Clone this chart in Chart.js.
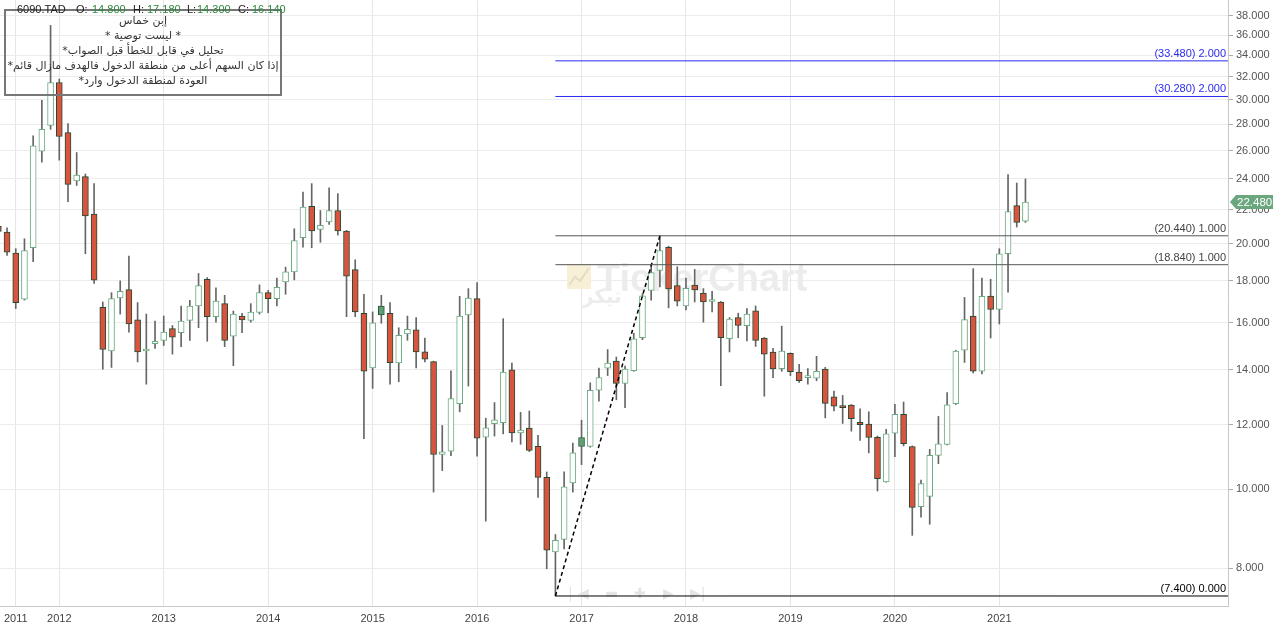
<!DOCTYPE html>
<html lang="ar">
<head>
<meta charset="UTF-8">
<title>6090.TAD</title>
<script src="https://cdn.jsdelivr.net/npm/chart.js"></script>
<style>
  html, body { margin: 0; padding: 0; background: #fff; }
  #wrap { width: 1273px; height: 628px; position: relative; }
</style>
</head>
<body>
<div id="wrap"><canvas id="chart"></canvas></div>
<script>
// monthly candles, Jun 2011 .. Apr 2021
const months = [
  '2011-06','2011-07','2011-08','2011-09','2011-10','2011-11','2011-12',
  '2012-01','2012-02','2012-03','2012-04','2012-05','2012-06','2012-07','2012-08','2012-09','2012-10','2012-11','2012-12',
  '2013-01','2013-02','2013-03','2013-04','2013-05','2013-06','2013-07','2013-08','2013-09','2013-10','2013-11','2013-12',
  '2014-01','2014-02','2014-03','2014-04','2014-05','2014-06','2014-07','2014-08','2014-09','2014-10','2014-11','2014-12',
  '2015-01','2015-02','2015-03','2015-04','2015-05','2015-06','2015-07','2015-08','2015-09','2015-10','2015-11','2015-12',
  '2016-01','2016-02','2016-03','2016-04','2016-05','2016-06','2016-07','2016-08','2016-09','2016-10','2016-11','2016-12',
  '2017-01','2017-02','2017-03','2017-04','2017-05','2017-06','2017-07','2017-08','2017-09','2017-10','2017-11','2017-12',
  '2018-01','2018-02','2018-03','2018-04','2018-05','2018-06','2018-07','2018-08','2018-09','2018-10','2018-11','2018-12',
  '2019-01','2019-02','2019-03','2019-04','2019-05','2019-06','2019-07','2019-08','2019-09','2019-10','2019-11','2019-12',
  '2020-01','2020-02','2020-03','2020-04','2020-05','2020-06','2020-07','2020-08','2020-09','2020-10','2020-11','2020-12',
  '2021-01','2021-02','2021-03','2021-04'
];
const opens = [
  21.00, 20.66, 19.47, 17.10, 19.76, 25.95, 27.90,
  31.50, 27.35, 23.87, 24.15, 21.73, 16.70, 14.77, 17.16, 17.56, 16.13, 14.77, 15.08,
  15.22, 15.73, 15.55, 16.10, 16.77, 18.08, 16.27, 16.88, 15.40, 16.30, 16.10, 16.47,
  17.41, 17.12, 17.95, 18.46, 20.33, 22.21, 20.81, 21.26, 21.95, 20.72, 18.58, 16.43,
  14.08, 16.76, 16.43, 14.28, 15.50, 15.68, 14.73, 14.33, 11.03, 11.13, 12.73, 16.35,
  17.12, 11.58, 12.03, 12.07, 14.01, 11.72, 11.88, 11.29, 10.34, 8.38, 8.68, 10.18,
  11.57, 11.28, 13.22, 14.07, 14.36, 13.48, 13.97, 15.33, 17.52, 18.54, 19.79, 17.76,
  16.77, 17.79, 17.39, 16.98, 16.96, 15.29, 16.23, 15.86, 16.54, 15.32, 14.72, 14.05,
  14.67, 13.92, 13.70, 13.68, 14.03, 12.98, 12.64, 12.68, 12.08, 12.02, 11.58, 10.21,
  11.71, 12.35, 11.28, 9.52, 9.80, 11.00, 11.35, 12.73, 14.80, 16.30, 13.95, 17.24,
  16.61, 19.43, 22.26, 21.30
];
const highs = [
  22.90, 20.91, 19.71, 20.27, 27.10, 29.95, 37.00,
  31.80, 28.05, 25.85, 24.33, 23.68, 16.96, 17.41, 18.00, 19.30, 16.93, 16.39, 16.07,
  16.30, 15.87, 16.77, 17.04, 18.38, 18.17, 17.65, 17.28, 16.53, 16.43, 16.88, 17.80,
  17.52, 18.14, 18.71, 20.85, 23.13, 23.68, 21.95, 23.40, 23.02, 20.75, 19.10, 17.33,
  16.49, 17.28, 16.93, 15.77, 16.30, 16.23, 15.32, 14.35, 11.97, 13.97, 17.23, 17.61,
  17.91, 12.22, 12.77, 16.18, 14.27, 12.42, 12.47, 11.64, 10.50, 8.80, 10.50, 11.39,
  12.15, 13.50, 14.07, 14.83, 14.52, 14.15, 15.53, 17.36, 18.86, 20.44, 19.85, 18.73,
  18.14, 18.59, 17.61, 17.48, 16.98, 16.23, 16.43, 16.65, 16.77, 15.34, 14.88, 15.84,
  14.69, 14.22, 14.05, 14.55, 14.10, 13.19, 13.03, 12.70, 12.55, 12.44, 11.62, 11.84,
  12.71, 12.79, 11.30, 10.26, 11.19, 12.28, 13.13, 14.80, 17.18, 18.63, 18.14, 18.08,
  19.71, 24.30, 23.72, 24.00
];
const lows = [
  19.90, 19.34, 16.65, 17.05, 19.00, 25.15, 27.60,
  25.30, 22.50, 23.56, 19.43, 17.87, 14.03, 14.10, 16.39, 15.58, 14.32, 13.45, 14.88,
  15.00, 14.64, 14.95, 15.22, 15.77, 15.18, 16.02, 14.95, 14.17, 15.55, 16.02, 16.39,
  16.45, 16.77, 17.33, 18.05, 19.79, 19.76, 20.07, 21.10, 20.48, 16.27, 16.27, 11.53,
  13.29, 15.97, 13.45, 13.54, 15.22, 14.08, 14.32, 9.92, 10.54, 10.99, 12.44, 13.38,
  10.98, 9.14, 11.62, 11.69, 11.43, 11.35, 11.12, 9.77, 7.99, 7.40, 8.45, 9.92,
  10.72, 11.26, 12.82, 13.78, 12.87, 12.59, 13.95, 15.25, 17.04, 17.70, 16.68, 16.77,
  16.58, 16.96, 16.02, 16.49, 13.39, 14.73, 15.33, 15.19, 14.96, 13.00, 13.70, 13.95,
  13.78, 13.52, 13.45, 13.58, 12.23, 12.47, 12.04, 11.78, 11.48, 11.08, 9.95, 10.20,
  10.96, 11.30, 8.78, 9.24, 9.06, 10.75, 11.33, 12.70, 14.30, 13.88, 13.84, 15.32,
  15.94, 17.44, 20.95, 21.23
];
const closes = [
  20.70, 19.52, 16.93, 19.60, 26.35, 27.60, 31.50,
  27.05, 23.63, 24.25, 21.62, 18.03, 14.83, 17.12, 17.48, 15.94, 14.73, 14.81, 15.18,
  15.58, 15.36, 16.07, 16.77, 17.76, 16.27, 17.00, 15.22, 16.39, 16.12, 16.48, 17.41,
  17.12, 17.67, 18.46, 20.17, 22.17, 20.72, 21.05, 21.95, 20.72, 18.24, 16.49, 13.95,
  15.99, 16.35, 14.29, 15.44, 15.70, 14.73, 14.43, 11.03, 11.11, 12.91, 16.30, 17.15,
  11.55, 11.89, 12.16, 13.92, 11.72, 11.82, 11.16, 10.34, 8.42, 8.66, 10.07, 11.08,
  11.28, 13.22, 13.70, 14.27, 13.48, 14.03, 15.29, 17.26, 18.42, 19.60, 17.60, 17.00,
  17.63, 17.55, 16.96, 17.02, 15.33, 16.16, 15.87, 16.39, 15.22, 14.64, 14.04, 14.77,
  13.93, 13.58, 13.77, 13.95, 12.74, 12.64, 12.59, 12.20, 12.00, 11.57, 10.30, 11.69,
  12.35, 11.37, 9.50, 10.16, 11.00, 11.37, 12.69, 14.77, 16.14, 13.95, 17.23, 16.61,
  19.43, 21.89, 21.23, 22.48
];

const yTicks = [8, 10, 12, 14, 16, 18, 20, 22, 24, 26, 28, 30, 32, 34, 36, 38];
const yearTickMonths = ['2011-08','2012-01','2013-01','2014-01','2015-01','2016-01','2017-01','2018-01','2019-01','2020-01','2021-01'];
const yearLabels = ['2011','2012','2013','2014','2015','2016','2017','2018','2019','2020','2021'];

// fibonacci tool
const fibLevels = [33.48, 30.28, 20.44, 18.84, 7.40];
const fibRatios = ['2.000', '2.000', '1.000', '1.000', '0.000'];
const fibStart = '2016-10';
const trendPoints = [['2016-10', 7.40], ['2017-10', 20.44]];

const symbol = '6090.TAD';
const infoMonth = '2020-09';
const noteLines = [
  'إبن خماس',
  '* ليست توصية *',
  'تحليل في قابل للخطأ قبل الصواب*',
  'إذا كان السهم أعلى من منطقة الدخول فالهدف مازال قائم*',
  'العودة لمنطقة الدخول وارد*'
];

// month index counted from Jan 2011
function mIdx(s) {
  const p = s.split('-');
  return (+p[0] - 2011) * 12 + (+p[1] - 1);
}

const X_MIN = 5.19, X_MAX = 146.27;
const Y_MIN = 7.194, Y_MAX = 39.75;

const wickData = [], bodyData = [], bodyFill = [], bodyLine = [];
months.forEach((m, i) => {
  const o = opens[i], c = closes[i];
  const prev = i ? closes[i - 1] : o;
  wickData.push({ x: mIdx(m), y: [lows[i], highs[i]] });
  bodyData.push({ x: mIdx(m), y: [Math.min(o, c), Math.max(o, c)] });
  if (c >= o) { bodyFill.push('#ffffff'); bodyLine.push('#6aaa80'); }
  else if (c >= prev) { bodyFill.push('#5f9f74'); bodyLine.push('#2b5a3a'); }
  else { bodyFill.push('#d9543f'); bodyLine.push('#234a30'); }
});

const fibColors = ['#2b2bf0', '#2b2bf0', '#555555', '#555555', '#000000'];
const fibSets = fibLevels.map((v, i) => ({
  type: 'line',
  data: [{ x: mIdx(fibStart), y: v }, { x: X_MAX, y: v }],
  borderColor: fibColors[i],
  borderWidth: 1,
  pointRadius: 0,
  order: 0
}));

function noPad(s) {
  s.paddingTop = 0; s.paddingBottom = 0; s.paddingLeft = 0; s.paddingRight = 0;
}

const overlay = {
  id: 'overlay',
  beforeDatasetsDraw(chart) {
    const ctx = chart.ctx;
    ctx.save();
    // watermark
    ctx.fillStyle = '#f8f0d6';
    ctx.fillRect(567, 264, 24, 25);
    ctx.strokeStyle = '#e3dcc4';
    ctx.lineWidth = 2;
    ctx.beginPath();
    ctx.moveTo(569, 285); ctx.lineTo(575, 277); ctx.lineTo(580, 281); ctx.lineTo(589, 268);
    ctx.stroke();
    ctx.fillStyle = '#ececec';
    ctx.font = 'bold 38px "Liberation Sans", Arial, sans-serif';
    ctx.textBaseline = 'alphabetic';
    ctx.fillText('TickerChart', 597, 291);
    ctx.font = 'bold 20px "DejaVu Sans", sans-serif';
    ctx.fillText('تيكر', 582, 303);
    // navigation hints
    ctx.fillStyle = '#e4e4e4';
    ctx.font = '14px "DejaVu Sans", sans-serif';
    const nav = [['|', 568], ['◀', 578], ['▬', 605], ['✚', 634], ['▶', 663], ['▶|', 690]];
    nav.forEach(n => ctx.fillText(n[0], n[1], 598));
    ctx.restore();
  },
  afterDraw(chart) {
    const { ctx, chartArea, scales: { y } } = chart;
    ctx.save();
    // fib labels
    ctx.font = '11px "Liberation Sans", Arial, sans-serif';
    ctx.textAlign = 'right';
    ctx.textBaseline = 'alphabetic';
    fibLevels.forEach((v, i) => {
      ctx.fillStyle = i < 2 ? '#2b2bf0' : (i < 4 ? '#444' : '#000');
      ctx.fillText('(' + v.toFixed(3) + ') ' + fibRatios[i], chartArea.right - 2, y.getPixelForValue(v) - 4);
    });

    // last price tag
    const last = closes[closes.length - 1];
    const py = y.getPixelForValue(last);
    const r = chartArea.right;
    ctx.fillStyle = '#6aa77e';
    ctx.beginPath();
    ctx.moveTo(r + 2, py);
    ctx.lineTo(r + 8, py - 7);
    ctx.lineTo(1273, py - 7);
    ctx.lineTo(1273, py + 7);
    ctx.lineTo(r + 8, py + 7);
    ctx.closePath();
    ctx.fill();
    ctx.fillStyle = '#ffffff';
    ctx.textAlign = 'left';
    ctx.textBaseline = 'middle';
    ctx.font = '11.5px "Liberation Sans", Arial, sans-serif';
    ctx.fillText(last.toFixed(3), r + 9, py + 0.5);

    // note box
    ctx.strokeStyle = '#777';
    ctx.lineWidth = 2;
    ctx.strokeRect(5, 10, 276, 85);
    ctx.fillStyle = '#333';
    ctx.font = '11px "DejaVu Sans", sans-serif';
    ctx.textAlign = 'center';
    ctx.direction = 'rtl';
    noteLines.forEach((t, i) => ctx.fillText(t, 143, 21 + i * 15));
    ctx.direction = 'ltr';

    // header
    const k = months.indexOf(infoMonth);
    ctx.textAlign = 'left';
    ctx.textBaseline = 'alphabetic';
    ctx.font = '11px "Liberation Sans", Arial, sans-serif';
    const parts = [
      [symbol, 17, '#222'], ['O:', 76, '#222'], [opens[k].toFixed(3), 92, '#2d8a3e'],
      ['H:', 133, '#222'], [highs[k].toFixed(3), 147, '#2d8a3e'],
      ['L:', 187, '#222'], [lows[k].toFixed(3), 197, '#2d8a3e'],
      ['C:', 238, '#222'], [closes[k].toFixed(3), 252, '#2d8a3e']
    ];
    parts.forEach(p => { ctx.fillStyle = p[2]; ctx.fillText(p[0], p[1], 13); });
    ctx.restore();
  }
};

new Chart(document.getElementById('chart'), {
  type: 'bar',
  data: {
    datasets: [
      {
        label: 'wick',
        data: wickData,
        backgroundColor: '#666666',
        barThickness: 1,
        grouped: false,
        order: 3
      },
      {
        label: 'body',
        data: bodyData,
        backgroundColor: bodyFill,
        borderColor: bodyLine,
        borderWidth: 1,
        borderSkipped: false,
        barThickness: 6,
        minBarLength: 2,
        grouped: false,
        order: 2
      },
      {
        type: 'line',
        label: 'trend',
        data: trendPoints.map(p => ({ x: mIdx(p[0]), y: p[1] })),
        borderColor: '#000',
        borderWidth: 1.5,
        borderDash: [4, 3],
        pointRadius: 0,
        order: 1
      },
      ...fibSets
    ]
  },
  options: {
    responsive: true,
    maintainAspectRatio: false,
    animation: false,
    layout: { padding: 0, autoPadding: false },
    plugins: { legend: { display: false }, tooltip: { enabled: false } },
    scales: {
      x: {
        type: 'linear',
        min: X_MIN,
        max: X_MAX,
        offset: false,
        afterBuildTicks: s => { s.ticks = yearTickMonths.map(m => ({ value: mIdx(m) })); },
        afterFit: s => { s.height = 22; noPad(s); },
        ticks: {
          autoSkip: false, maxRotation: 0, padding: 6, color: '#444',
          font: { family: '"Liberation Sans", Arial, sans-serif', size: 11 },
          callback: (v, i) => yearLabels[i]
        },
        grid: { color: '#e6e6e6', drawTicks: false, offset: false },
        border: { color: '#c8c8c8' }
      },
      y: {
        type: 'logarithmic',
        position: 'right',
        min: Y_MIN,
        max: Y_MAX,
        afterBuildTicks: s => { s.ticks = yTicks.map(v => ({ value: v })); },
        afterFit: s => { s.width = 45; noPad(s); },
        ticks: {
          padding: 3, color: '#555',
          font: { family: '"Liberation Sans", Arial, sans-serif', size: 11 },
          callback: v => Number(v).toFixed(3)
        },
        grid: { color: '#ececec', tickLength: 5, tickColor: '#aaa' },
        border: { color: '#c8c8c8' }
      }
    }
  },
  plugins: [overlay]
});
</script>
</body>
</html>
